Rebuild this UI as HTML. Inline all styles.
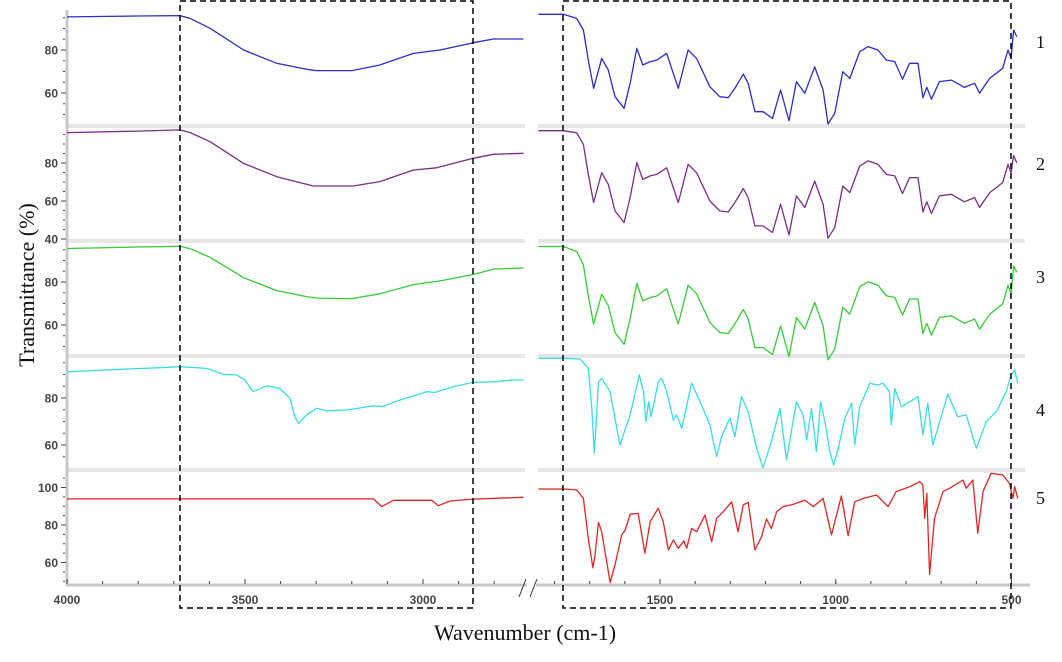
<!DOCTYPE html>
<html><head><meta charset="utf-8"><style>
html,body{margin:0;padding:0;background:#fff;}
svg{display:block;font-family:"Liberation Sans",sans-serif;}
</style></head><body>
<svg id="chart" width="1062" height="662" viewBox="0 0 1062 662" xmlns="http://www.w3.org/2000/svg">
<g id="grid"></g>
<g id="axes"></g>
<g id="series"></g>
<rect x="180" y="1" width="293" height="607" fill="none" stroke="#000" stroke-width="1.5" stroke-dasharray="6,4"/>
<rect x="563" y="1" width="448" height="607" fill="none" stroke="#000" stroke-width="1.5" stroke-dasharray="6,4"/>
<text transform="translate(34,285) rotate(-90)" text-anchor="middle" font-family="Liberation Serif, serif" font-size="22" fill="#111">Transmittance (%)</text>
<text x="525" y="640" text-anchor="middle" font-family="Liberation Serif, serif" font-size="22" fill="#111">Wavenumber (cm-1)</text>
<g id="labels" font-family="Liberation Serif, serif" font-size="18" fill="#111"></g>
</svg>
<script>
// ---- data ----
const seriesNames = ["1","2","3","4","5"];
const leftGridA = [4000,3800,3683,3654,3598,3504,3411,3327,3299,3200,3121,3027,2952,2859,2802,2718];
const leftBlue = [95.4,95.8,96.0,94.7,90.1,80.0,73.8,71.0,70.4,70.4,73.0,78.4,80.0,83.4,85.1,85.1];
const leftGreen = [95.6,96.3,96.6,95.5,91.5,82.0,76.0,73.2,72.5,72.3,74.5,78.8,80.5,83.5,86.0,86.5];
const leftGridP = [4000,3800,3683,3654,3598,3504,3411,3308,3196,3121,3027,2962,2859,2802,2718];
const leftPurple = [96.0,96.8,97.4,96.0,91.2,79.8,72.8,67.9,67.9,70.2,76.3,77.5,82.5,84.6,85.1];
const leftGridC = [4000,3850,3739,3683,3608,3561,3523,3500,3477,3439,3402,3374,3360,3350,3327,3299,3271,3214,3139,3116,3065,2990,2966,2915,2859,2802,2746,2718];
const leftCyan = [91.1,92.2,92.9,93.3,92.6,90.1,89.8,87.7,82.7,85.2,84.1,79.9,72.0,69.2,72.8,75.6,74.5,74.9,76.7,76.3,79.1,82.7,82.4,84.8,86.7,86.9,87.7,87.7];
const leftGridR = [4000,3139,3116,3083,2975,2957,2924,2859,2718];
const leftRed = [93.9,93.9,89.8,93.2,93.2,90.3,92.8,93.8,94.8];
const rightGridA = [1846,1775,1737,1718,1704,1689,1666,1647,1628,1602,1585,1566,1549,1528,1509,1481,1467,1448,1420,1396,1358,1330,1306,1287,1263,1249,1230,1207,1180,1157,1133,1112,1088,1060,1036,1022,1003,980,960,932,908,880,856,832,810,790,766,752,741,728,705,671,634,605,591,562,525,510,501,494,485];
const rightBlue = [96.6,96.6,94.7,89.3,75.3,62.2,76.1,70.7,58.3,52.9,64.5,80.8,73.0,74.6,75.3,78.4,71.5,62.2,80.0,76.1,62.9,58.3,57.8,62.2,68.8,64.5,51.3,51.3,48.2,61.4,47.1,65.3,59.9,72.2,61.4,45.6,50.5,69.9,66.8,79.2,81.6,80.0,75.3,74.6,66.4,73.8,73.8,57.8,62.6,57.1,65.3,66.0,62.6,64.5,59.9,66.8,71.5,80.0,76.1,89.3,86.2];
const rightPurple = [97.0,97.0,95.9,89.8,74.0,59.2,74.9,68.8,54.8,48.7,61.8,80.2,71.4,73.2,74.0,77.5,69.7,59.2,79.3,74.9,60.0,54.8,54.2,59.2,66.6,61.8,46.9,46.9,43.4,58.3,42.1,62.7,56.6,70.5,58.3,40.4,46.0,67.9,64.4,78.4,81.1,79.3,74.0,73.2,63.9,72.3,72.3,54.2,59.6,53.4,62.7,63.5,59.6,61.8,56.6,64.4,69.7,79.3,74.9,84.0,80.0];
const rightGreen = [96.5,96.5,94.2,88.0,73.5,60.5,74.3,69.0,56.5,51.0,62.8,79.3,71.2,72.8,73.5,76.8,69.7,60.5,78.5,74.5,61.2,56.5,56.0,60.5,67.2,62.8,49.5,49.5,46.3,59.6,45.4,63.5,58.1,70.5,59.6,43.8,48.8,68.3,65.0,77.8,80.1,78.5,73.6,72.8,64.6,72.1,72.1,56.0,60.8,55.3,63.5,64.3,60.8,62.8,58.1,65.0,69.8,78.5,74.5,87.5,84.5];
const rightGridC = [1846,1775,1727,1704,1694,1687,1675,1666,1642,1614,1585,1559,1547,1540,1532,1526,1517,1505,1495,1481,1462,1453,1438,1410,1386,1358,1339,1325,1301,1287,1268,1249,1225,1207,1183,1159,1140,1112,1093,1083,1069,1055,1043,1031,1017,1006,993,974,955,946,932,903,880,866,847,842,832,813,790,766,752,738,724,681,653,629,600,572,543,515,501,491,482];
const rightCyan = [96.9,96.9,96.6,92.6,75.6,56.5,86.9,88.4,82.7,60.0,72.8,89.8,82.7,69.9,78.4,72.0,77.7,86.9,88.4,82.7,70.6,72.8,67.1,86.3,78.4,68.5,55.0,63.5,71.4,63.5,80.6,74.2,58.6,50.3,61.4,75.6,53.6,78.4,72.8,62.1,75.6,57.1,78.4,69.9,57.1,51.5,58.6,71.4,77.7,60.0,76.3,86.3,85.5,86.3,82.7,68.5,84.1,76.3,78.4,80.6,64.3,77.7,60.0,81.6,72.0,72.8,58.6,69.9,74.2,82.7,89.8,91.9,86.3];
const rightGridR = [1846,1775,1737,1718,1704,1691,1685,1675,1666,1642,1628,1609,1599,1585,1562,1543,1528,1505,1491,1476,1462,1448,1432,1424,1410,1396,1372,1353,1339,1320,1296,1278,1263,1249,1230,1211,1197,1183,1168,1150,1121,1088,1064,1036,1012,984,965,946,922,884,851,828,790,761,752,747,741,733,719,695,676,638,629,610,596,581,558,525,506,496,491,482];
const rightRed = [99.2,99.2,98.7,94.2,72.9,57.2,64.0,81.4,76.4,49.4,58.7,74.7,77.3,85.7,86.2,64.9,81.8,88.9,81.8,66.7,72.0,67.6,71.5,67.6,78.2,76.4,85.3,71.1,83.6,87.1,92.4,76.4,90.7,92.1,66.7,73.8,83.2,78.2,87.1,89.8,91.0,93.3,89.8,94.2,74.7,95.5,74.3,92.4,94.2,96.0,89.8,97.8,100.4,103.1,101.3,83.6,96.9,53.7,83.6,97.8,99.6,104.0,99.6,104.0,75.6,97.8,107.6,106.7,102.2,94.2,100.4,94.2];
const panelTicks = [[80,60],[80,60,40],[80,60],[80,60],[100,80,60]];
const leftXTicks = [4000,3500,3000];
const rightXTicks = [1500,1000,500];

// ---- layout ----
const NS = "http://www.w3.org/2000/svg";
const panels = [{y80:50,k:2.15,top:10,bot:126},{y80:163,k:1.9,top:126,bot:241},{y80:282,k:2.15,top:241,bot:356},{y80:398,k:2.35,top:356,bot:470},{y80:525,k:1.875,top:470,bot:585}];
const xLeft = w => 67 + (4000 - w) * 0.356;
const xRight = w => 660 + (1500 - w) * 0.3515;
const yP = (p, v) => panels[p].y80 + (80 - v) * panels[p].k;
function mk(tag, attrs, parent){ const e=document.createElementNS(NS,tag); for(const k in attrs) e.setAttribute(k,attrs[k]); parent.appendChild(e); return e; }

const grid = document.getElementById('grid');
[126,241,356,470].forEach((y,i)=>{
  const a = mk('line',{x1:68,x2:525,y1:y,y2:y,stroke:'#e6e6e6','stroke-width':4},grid);
  
  
  const b = mk('line',{x1:538,x2:1025,y1:y,y2:y,stroke:'#e6e6e6','stroke-width':4},grid);
  
  
});

const axes = document.getElementById('axes');
const ya = mk('line',{x1:67,x2:67,y1:10,y2:586,stroke:'#c8c8c8','stroke-width':3},axes);


const xa1 = mk('line',{x1:66,x2:527,y1:585,y2:585,stroke:'#c8c8c8','stroke-width':3},axes);


const xa2 = mk('line',{x1:536,x2:1030,y1:585,y2:585,stroke:'#c8c8c8','stroke-width':3},axes);


// break marks
const br = mk('path',{d:'M519,597 L526,579 M530,597 L537,579',stroke:'#333','stroke-width':1,fill:'none'},axes);



panels.forEach((p,pi)=>{
  for(let v=0; v<=110; v+=5){
    const y=yP(pi,v);
    if(y<p.top+2||y>p.bot-2) continue;
    const m = mk('line',{x1:63,x2:65,y1:y,y2:y,stroke:'#444','stroke-width':1},axes);
    
    
  }
  panelTicks[pi].forEach(v=>{
    const y=yP(pi,v);
    const t = mk('line',{x1:61,x2:66,y1:y,y2:y,stroke:'#444','stroke-width':1},axes);
    
    
    const l = mk('text',{x:58,y:y+4.5,'text-anchor':'end','font-size':12,fill:'#444','font-weight':'bold'},axes);
    l.textContent=v;
    
    
  });
});
for(let w=4000; w>=2800; w-=100){
  const x=xLeft(w);
  const t = mk('line',{x1:x,x2:x,y1:581,y2:584,stroke:'#444','stroke-width':1},axes);
  
  
}
for(let w=1800; w>=500; w-=100){
  const x=xRight(w);
  const t = mk('line',{x1:x,x2:x,y1:581,y2:584,stroke:'#444','stroke-width':1},axes);
  
  
}
[[leftXTicks,xLeft],[rightXTicks,xRight]].forEach(([ticks,fx])=>{
  ticks.forEach(w=>{
    const x=fx(w);
    const t = mk('line',{x1:x,x2:x,y1:579,y2:584,stroke:'#444','stroke-width':1},axes);
    
    
    const l = mk('text',{x:x,y:604,'text-anchor':'middle','font-size':12,fill:'#444','font-weight':'bold'},axes);
    l.textContent=w;
    
    
  });
});

const series = document.getElementById('series');
const specs = [
  {p:0,c:'#2b2bd0',lw:leftGridA,lv:leftBlue,rw:rightGridA,rv:rightBlue},
  {p:1,c:'#7d2a8c',lw:leftGridP,lv:leftPurple,rw:rightGridA,rv:rightPurple},
  {p:2,c:'#35cc35',lw:leftGridA,lv:leftGreen,rw:rightGridA,rv:rightGreen},
  {p:3,c:'#36dde6',lw:leftGridC,lv:leftCyan,rw:rightGridC,rv:rightCyan},
  {p:4,c:'#e02525',lw:leftGridR,lv:leftRed,rw:rightGridR,rv:rightRed}
];
specs.forEach((s,i)=>{
  const dl = s.lw.map((w,j)=>(j?'L':'M')+xLeft(w).toFixed(1)+','+yP(s.p,s.lv[j]).toFixed(1)).join(' ');
  const a = mk('path',{d:dl,stroke:s.c,'stroke-width':1.3,fill:'none','stroke-linejoin':'round'},series);
  
  
  const dr = s.rw.map((w,j)=>(j?'L':'M')+xRight(w).toFixed(1)+','+yP(s.p,s.rv[j]).toFixed(1)).join(' ');
  const b = mk('path',{d:dr,stroke:s.c,'stroke-width':1.3,fill:'none','stroke-linejoin':'round'},series);
  
  
});

const labels = document.getElementById('labels');
[48,170,283,416,504].forEach((y,i)=>{
  const t = mk('text',{x:1036,y:y},labels);
  t.textContent = seriesNames[i];
  
  
});
</script>
</body></html>
